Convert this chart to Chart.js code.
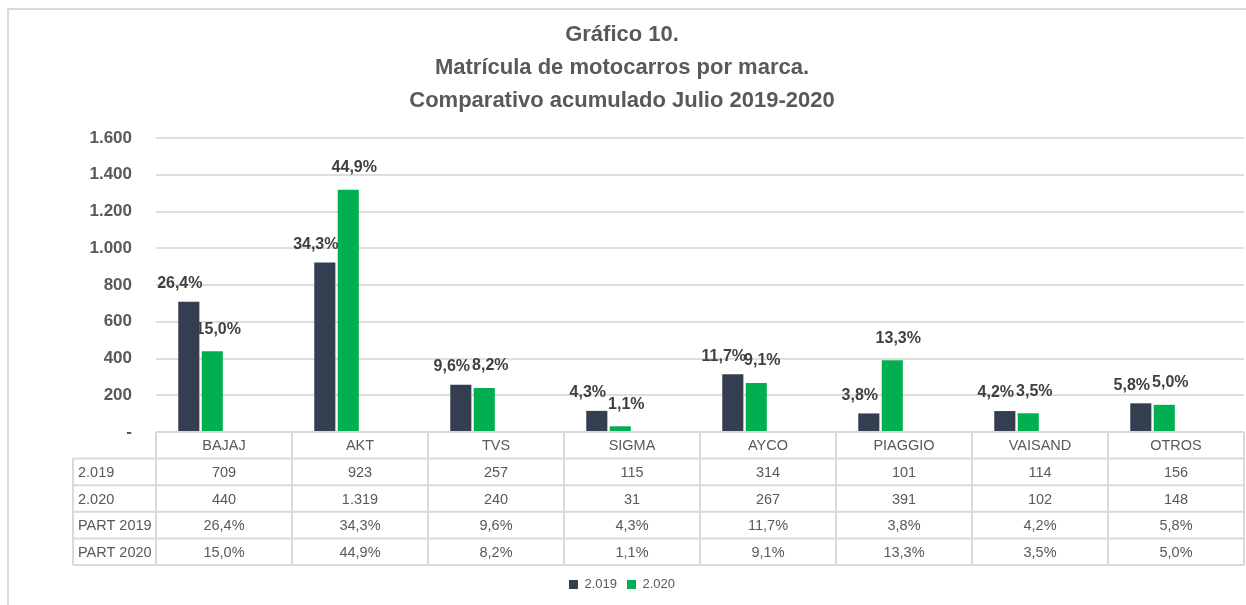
<!DOCTYPE html>
<html>
<head>
<meta charset="utf-8">
<script src="https://cdn.jsdelivr.net/npm/chart.js@4"></script>
<style>
  html, body { margin: 0; padding: 0; background: #fff; overflow: hidden; }
  .frame { position: absolute; left: 7px; top: 8px; width: 1400px; height: 800px;
           border-left: 2px solid #d9d9d9; border-top: 2px solid #d9d9d9; }
  .wrap { position: absolute; left: 0; top: 0; width: 1246px; height: 605px; }
</style>
</head>
<body>
<div class="frame"></div>
<div class="wrap"><canvas id="chart" width="1246" height="605"></canvas></div>
<script>
const categories = ['BAJAJ', 'AKT', 'TVS', 'SIGMA', 'AYCO', 'PIAGGIO', 'VAISAND', 'OTROS'];
const seriesNames = ['2.019', '2.020', 'PART 2019', 'PART 2020'];
const values2019 = [709, 923, 257, 115, 314, 101, 114, 156];
const values2020 = [440, 1319, 240, 31, 267, 391, 102, 148];
const part2019 = [26.4, 34.3, 9.6, 4.3, 11.7, 3.8, 4.2, 5.8];
const part2020 = [15.0, 44.9, 8.2, 1.1, 9.1, 13.3, 3.5, 5.0];
const yTicks = [0, 200, 400, 600, 800, 1000, 1200, 1400, 1600];

const grey = '#595959';
const font = "'Liberation Sans', Arial, sans-serif";

function fmtInt(v) {
    return String(v).replace(/\B(?=(\d{3})+(?!\d))/g, '.');
}
function fmtPct(v) {
    return v.toFixed(1).replace('.', ',') + '%';
}

// labels over the bars (percentages), nudged like the original
const barLabels = {
    id: 'barLabels',
    afterDatasetsDraw(chart) {
        const ctx = chart.ctx;
        const sources = [part2019, part2020];
        const nudge = [{ dx: -9, dy: -18 }, { dx: 6, dy: -22 }];
        ctx.save();
        ctx.font = `bold 16px ${font}`;
        ctx.fillStyle = '#404040';
        ctx.textAlign = 'center';
        ctx.textBaseline = 'middle';
        [0, 1].forEach(di => {
            chart.getDatasetMeta(di).data.forEach((bar, i) => {
                ctx.fillText(fmtPct(sources[di][i]), bar.x + nudge[di].dx, bar.y + nudge[di].dy);
            });
        });
        ctx.restore();
    }
};

// data table under the plot
const dataTable = {
    id: 'dataTable',
    afterDraw(chart) {
        const ctx = chart.ctx;
        const area = chart.chartArea;
        const top = area.bottom;
        const rowH = 26.6;
        const labelLeft = 73;
        const colW = (area.right - area.left) / categories.length;
        const rows = [
            values2019.map(fmtInt),
            values2020.map(fmtInt),
            part2019.map(fmtPct),
            part2020.map(fmtPct)
        ];
        const bottom = top + rowH * (rows.length + 1);

        ctx.save();
        ctx.strokeStyle = '#d9d9d9';
        ctx.lineWidth = 2;
        ctx.beginPath();
        for (let r = 0; r <= rows.length + 1; r++) {
            const y = top + r * rowH;
            ctx.moveTo(r === 0 ? area.left : labelLeft, y);
            ctx.lineTo(area.right, y);
        }
        ctx.moveTo(labelLeft, top + rowH);
        ctx.lineTo(labelLeft, bottom);
        for (let c = 0; c <= categories.length; c++) {
            const x = area.left + c * colW;
            ctx.moveTo(x, top);
            ctx.lineTo(x, bottom);
        }
        ctx.stroke();

        ctx.font = `14.5px ${font}`;
        ctx.fillStyle = grey;
        ctx.textBaseline = 'middle';
        ctx.textAlign = 'center';
        categories.forEach((c, i) => {
            ctx.fillText(c, area.left + (i + 0.5) * colW, top + rowH / 2 + 1);
        });
        rows.forEach((row, r) => {
            const y = top + (r + 1.5) * rowH + 1;
            ctx.textAlign = 'left';
            ctx.fillText(seriesNames[r], labelLeft + 5, y);
            ctx.textAlign = 'center';
            row.forEach((txt, i) => {
                ctx.fillText(txt, area.left + (i + 0.5) * colW, y);
            });
        });
        ctx.restore();
    }
};

new Chart(document.getElementById('chart'), {
    type: 'bar',
    data: {
        labels: categories,
        datasets: [
            { label: seriesNames[0], data: values2019, backgroundColor: '#333F50' },
            { label: seriesNames[1], data: values2020, backgroundColor: '#00B050' },
            { label: seriesNames[2], data: part2019, backgroundColor: 'rgba(0,0,0,0)' },
            { label: seriesNames[3], data: part2020, backgroundColor: 'rgba(0,0,0,0)' }
        ]
    },
    options: {
        responsive: false,
        animation: false,
        events: [],
        layout: { padding: { top: 18, right: 2, bottom: 4, left: 0 } },
        datasets: { bar: { categoryPercentage: 0.69, barPercentage: 0.9 } },
        scales: {
            x: {
                grid: { display: false },
                border: { display: false },
                ticks: { display: false },
                afterFit(scale) { scale.height = 136; }
            },
            y: {
                min: 0,
                max: 1600,
                afterBuildTicks(scale) { scale.ticks = yTicks.map(v => ({ value: v })); },
                afterFit(scale) { scale.width = 156; },
                grid: { color: '#dedede', lineWidth: 2, drawTicks: false },
                border: { display: false },
                ticks: {
                    padding: 24,
                    color: grey,
                    font: { family: font, size: 17, weight: 'bold' },
                    callback: v => v === 0 ? '-' : fmtInt(v)
                }
            }
        },
        plugins: {
            title: {
                display: true,
                text: ['Gráfico 10.', 'Matrícula de motocarros por marca.', 'Comparativo acumulado Julio 2019-2020'],
                color: grey,
                font: { family: font, size: 22, weight: 'bold', lineHeight: 1.5 },
                padding: { top: 0, bottom: 21 }
            },
            legend: {
                position: 'bottom',
                labels: {
                    color: grey,
                    font: { family: font, size: 13 },
                    boxWidth: 9,
                    boxHeight: 9,
                    padding: 10,
                    filter: item => item.datasetIndex < 2
                }
            },
            tooltip: { enabled: false }
        }
    },
    plugins: [barLabels, dataTable]
});
</script>
</body>
</html>
